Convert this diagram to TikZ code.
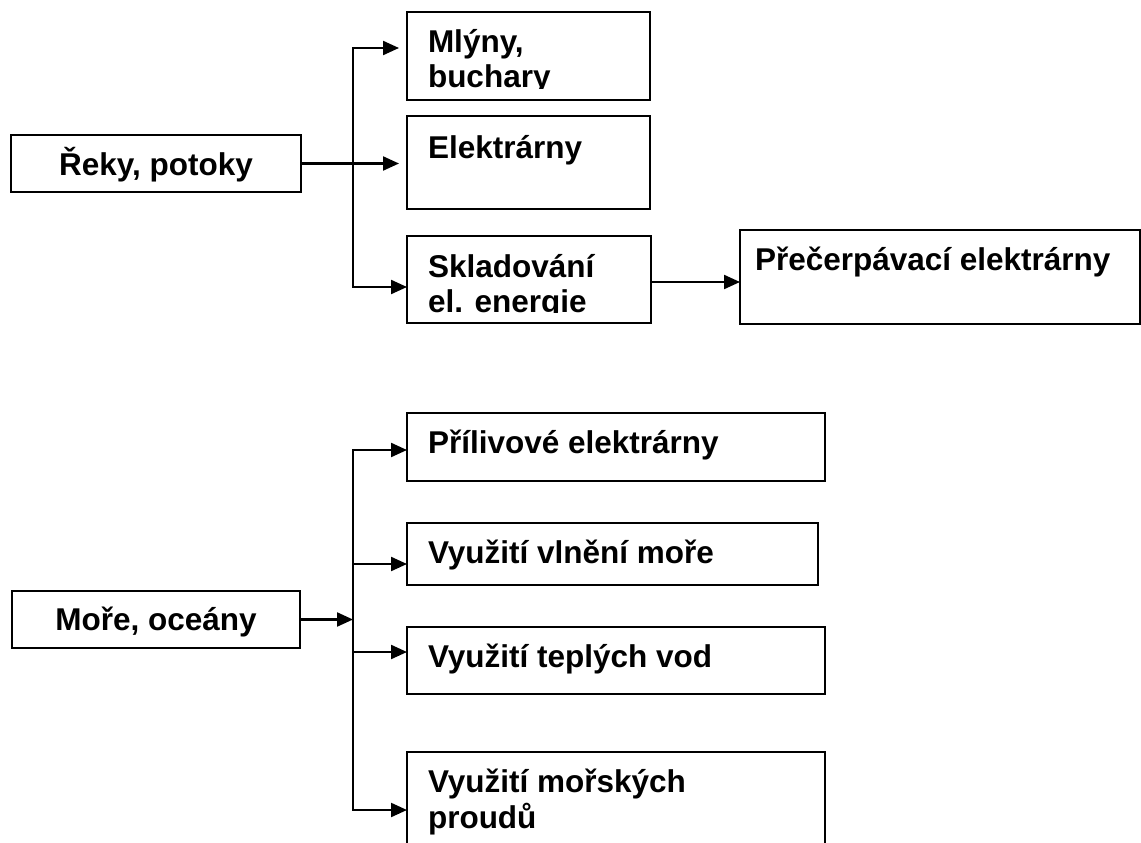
\documentclass[tikz,border=0pt]{standalone}
\usepackage{fontspec}
\setmainfont{Liberation Sans}
\usetikzlibrary{arrows.meta}
\begin{document}
\begin{tikzpicture}[x=1pt,y=-1pt,
  box/.style={draw, line width=2.6pt, rectangle, inner sep=0pt, outer sep=0pt, anchor=north west},
  txt/.style={inner sep=0pt, outer sep=0pt, anchor=base west, font=\bfseries\fontsize{31.5}{35}\selectfont},
  ctxt/.style={txt, anchor=base},
  conn/.style={line width=2.2pt, line cap=rect},
  arr/.style={conn, -{Triangle[length=16pt,width=14pt]}}]
\useasboundingbox (0,0) rectangle (1141,843);

% boxes
\node[box, minimum width=290pt, minimum height=57pt] (reky) at (11,135) {};
\node[box, minimum width=243pt, minimum height=88pt] (mly) at (407,12) {};
\node[box, minimum width=243pt, minimum height=93pt] (elek) at (407,116) {};
\node[box, minimum width=244pt, minimum height=87pt] (skl) at (407,236) {};
\node[box, minimum width=400pt, minimum height=94pt] (prec) at (740,230) {};
\node[box, minimum width=288pt, minimum height=57pt] (more) at (12,591) {};
\node[box, minimum width=418pt, minimum height=68pt] (pril) at (407,413) {};
\node[box, minimum width=411pt, minimum height=62pt] (vln) at (407,523) {};
\node[box, minimum width=418pt, minimum height=67pt] (tep) at (407,627) {};
\node[box, minimum width=418pt, minimum height=120pt] (mor) at (407,752) {};

% texts
\node[ctxt] (rekyt) at (156,175) {Řeky, potoky};
\node[ctxt] (moret) at (156,630) {Moře, oceány};
\begin{scope}
  \clip (mly.north west) rectangle ([yshift=11pt]mly.south east);
  \node[txt] (mlyt1) at (428,53) {Mlýny,};
  \node[txt] (mlyt2) at (428,88) {buchary};
\end{scope}
\node[txt] (elekt) at (428,158) {Elektrárny};
\begin{scope}
  \clip (skl.north west) rectangle ([yshift=11pt]skl.south east);
  \node[txt] (sklt1) at (428,277) {Skladování};
  \node[txt] (sklt2) at (428,312) {el. energie};
\end{scope}
\node[txt] (prect) at (755,270) {Přečerpávací elektrárny};
\node[txt] (prilt) at (428,453) {Přílivové elektrárny};
\node[txt] (vlnt) at (428,563) {Využití vlnění moře};
\node[txt] (tept) at (428,667) {Využití teplých vod};
\node[txt] (mort1) at (428,792) {Využití mořských};
\node[txt] (mort2) at (428,828) {proudů};

% upper connectors
\coordinate (u1) at (353,48);
\coordinate (u3) at (353,287);
\coordinate (pa) at (700,282);
\draw[conn] (u1) -- (u3);
\draw[arr, shorten >=8pt] (u1) -- (u1 -| mly.west);
\draw[arr, shorten >=8pt] (reky.east) -- (reky.east -| elek.west);
\draw[arr] (u3) -- (u3 -| skl.west);
\draw[arr] (skl.east |- pa) -- (prec.west |- pa);

% lower connectors
\coordinate (l1) at (353,450);
\coordinate (l2) at (353,564);
\coordinate (l3) at (353,652);
\coordinate (l4) at (353,810);
\draw[conn] (l1) -- (l4);
\draw[arr] (more.east) -- (more.east -| l1);
\draw[arr] (l1) -- (l1 -| pril.west);
\draw[arr] (l2) -- (l2 -| vln.west);
\draw[arr] (l3) -- (l3 -| tep.west);
\draw[arr] (l4) -- (l4 -| mor.west);
\end{tikzpicture}
\end{document}
